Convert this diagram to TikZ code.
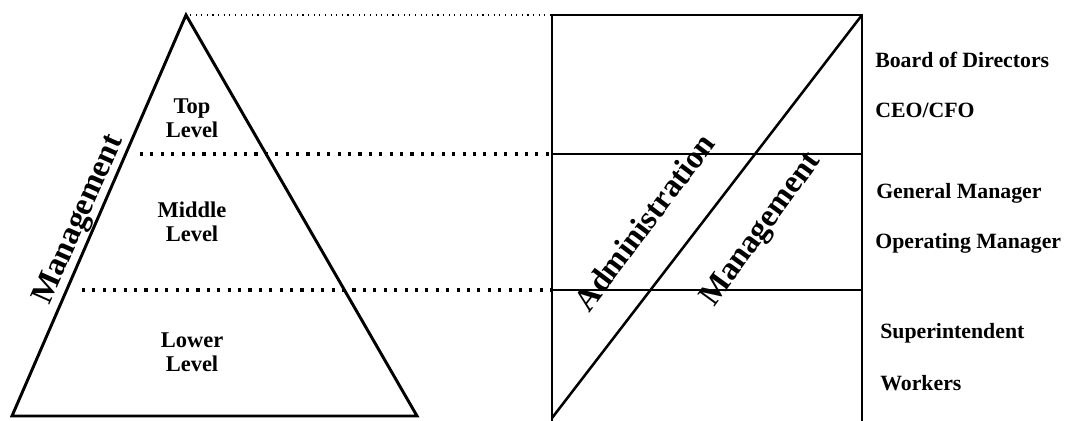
\documentclass[tikz,border=0pt]{standalone}
\usepackage{fontspec}
\setmainfont{Liberation Serif}
\usepackage{tikz}

\begin{document}
\begin{tikzpicture}[
		lvl/.style={font=\bfseries\fontsize{16}{17}\selectfont, align=center, inner sep=0pt},
		rank/.style={font=\bfseries\fontsize{15.5}{17}\selectfont, anchor=west, inner sep=0pt},
		slant/.style={font=\bfseries\fontsize{23}{25}\selectfont, inner sep=0pt},
		fine/.style={line width=0.8pt, dash pattern=on 0.8pt off 3.2pt},
		coarse/.style={line width=2.2pt, dash pattern=on 2.2pt off 5.2pt}
	]
		\useasboundingbox (0,0) rectangle (26.625,10.5);
		% pyramid
		\coordinate (apex) at (4.65,10.125);
		\coordinate (bl) at (0.3,0.1);
		\coordinate (br) at (10.425,0.1);
		\draw[line width=2.1pt, line join=miter] (apex) -- (br) -- (bl) -- cycle;
		% box
		\coordinate (boxtl) at (13.8,10.125);
		\coordinate (boxbl) at (13.8,-0.2);
		\coordinate (boxtr) at (21.55,10.125);
		\coordinate (boxbr) at (21.55,-0.2);
		\coordinate (diagbl) at (13.8,0.05);
		\draw[line width=2.1pt] (boxbl) -- (boxtl) -- (boxtr) -- (boxbr) -- cycle;
		\draw[line width=1.8pt] (diagbl) -- (boxtr);
		\foreach \y/\n in {6.65/mid, 3.25/low} {
			\coordinate (\n l) at (13.8,\y);
			\coordinate (\n r) at (21.55,\y);
			\draw[line width=1.1pt] (\n l) -- (\n r);
		}
		% dotted links
		\coordinate (topstart) at (4.75,10.125);
		\coordinate (midstart) at (3.5,6.65);
		\coordinate (lowstart) at (2.05,3.25);
		\draw[fine] (topstart) -- (boxtl);
		\draw[coarse] (midstart) -- (midl);
		\draw[coarse] (lowstart) -- (lowl);
		% levels
		\node[lvl] (toplvl) at (4.8,7.55) {Top\\Level};
		\node[lvl] (midlvl) at (4.8,4.95) {Middle\\Level};
		\node[lvl] (lowlvl) at (4.8,1.7) {Lower\\Level};
		\node[slant, rotate=66] (mgmtleft) at (2.0,5.0) {Management};
		\node[slant, rotate=53] (admin) at (16.1,4.95) {Administration};
		\node[slant, rotate=54] (mgmtright) at (19.05,4.75) {Management};
		% ranks
		\node[rank] (board) at (21.875,9.0) {Board of Directors};
		\node[rank] (ceo) at (21.875,7.75) {CEO/CFO};
		\node[rank] (gm) at (21.9,5.675) {General Manager};
		\node[rank] (om) at (21.875,4.425) {Operating Manager};
		\node[rank] (super) at (22.0,2.175) {Superintendent};
		\node[rank] (workers) at (22.0,0.925) {Workers};
	\end{tikzpicture}
\end{document}
